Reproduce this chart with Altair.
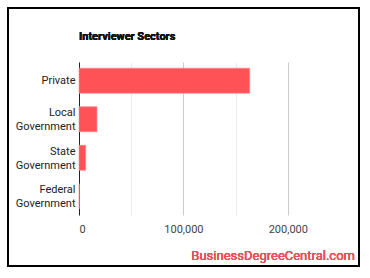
import altair as alt
import pandas as pd

sectors = ["Private", "Local|Government", "State|Government", "Federal|Government"]
employees = [163500, 17200, 6400, 300]
x_ticks = [0, 50000, 100000, 150000, 200000]

df = pd.DataFrame({"sector": sectors, "employees": employees})

FONT = "Roboto"

bars = alt.Chart(df).mark_bar(color="#ff5257", stroke="#ff8a8d", strokeWidth=0.6).encode(
    y=alt.Y(
        "sector:N",
        sort=None,
        title=None,
        scale=alt.Scale(paddingInner=0.35, paddingOuter=0.16),
        axis=alt.Axis(
            labelExpr="split(datum.label, '|')",
            labelLineHeight=14,
            labelFontSize=11,
            labelColor="#222222",
            labelFont=FONT,
            labelOffset={"condition": {"test": "indexof(datum.label, '|') >= 0", "value": -6}, "value": 0},
            ticks=False,
            labelPadding=4,
            domainColor="#222222",
            domainWidth=1,
            grid=False,
        ),
    ),
    x=alt.X(
        "employees:Q",
        title=None,
        scale=alt.Scale(domain=[0, 250000], nice=False),
        axis=alt.Axis(
            values=x_ticks,
            labelExpr="datum.value % 100000 === 0 ? format(datum.value, ',') : ''",
            labelFontSize=11,
            labelColor="#444444",
            labelFont=FONT,
            ticks=False,
            domain=False,
            labelPadding=8,
            gridColor={"condition": {"test": "datum.value % 100000 === 0", "value": "#cccccc"}, "value": "#ebebeb"},
            labelOverlap=False,
        ),
    ),
)

frame = alt.Chart(df).mark_rect(fill=None, stroke="#000000", strokeWidth=1.5).encode(
    x=alt.value(-71), x2=alt.value(280), y=alt.value(-54), y2=alt.value(204)
)

title = alt.Chart(df).mark_text(
    text="Interviewer Sectors", align="left", baseline="middle",
    fontSize=11, fontWeight="bold", font=FONT, color="#111111"
).encode(x=alt.value(0), y=alt.value(-25))

watermark = alt.Chart(df).mark_text(
    text="BusinessDegreeCentral.com", align="right", baseline="middle",
    fontSize=13, font=FONT, color="#e8505b"
).encode(x=alt.value(276), y=alt.value(194))

chart = alt.layer(bars, frame, title, watermark).properties(
    width=261,
    height=153,
    autosize=alt.AutoSizeParams(type="none"),
    padding={"left": 79, "top": 62, "right": 30, "bottom": 63},
).configure(background="white", view=alt.ViewConfig(stroke=None))

chart.save("out.html", embed_options={"renderer": "svg", "actions": False})
